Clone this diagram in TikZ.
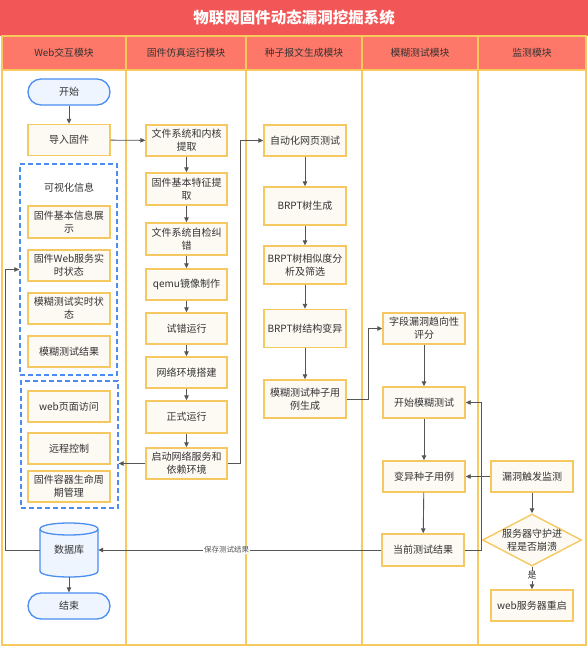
\documentclass[tikz,border=0pt]{standalone}
\usepackage{fontspec}
\setmainfont{Noto Sans CJK SC}
\usetikzlibrary{shapes.geometric,arrows.meta,calc}
\definecolor{titlered}{HTML}{F35656}
\definecolor{headred}{HTML}{FD7868}
\definecolor{laneyel}{HTML}{F8C95D}
\definecolor{boxfill}{HTML}{FDFAF4}
\definecolor{boxline}{HTML}{F6C862}
\definecolor{bluel}{HTML}{4B8EF0}
\definecolor{bluefill}{HTML}{EFF5FF}
\definecolor{txt}{HTML}{333333}
\definecolor{arr}{HTML}{555555}
\begin{document}
\begin{tikzpicture}[x=1pt,y=-1pt,
 box/.style={draw=boxline, fill=boxfill, line width=1.4pt, minimum width=82pt, minimum height=31pt, inner sep=1pt, align=center, text=txt, font=\fontsize{10}{13}\selectfont},
 tall/.style={minimum height=38pt},
 term/.style={draw=bluel, fill=bluefill, line width=1.3pt, rounded corners=13pt, minimum width=82pt, minimum height=26pt, text=txt, font=\fontsize{10}{13}\selectfont},
 grp/.style={draw=bluel, dashed, dash pattern=on 5pt off 3pt, line width=1.3pt, inner sep=0pt},
 conn/.style={draw=arr, line width=0.9pt, -{Triangle[length=5pt,width=4.5pt]}},
 head/.style={text=txt, font=\fontsize{9.8}{12}\selectfont},
 lane/.style={draw=laneyel, line width=1.5pt},
 lbl/.style={fill=white, inner sep=1pt, text=arr},
]
\useasboundingbox (0,0) rectangle (588,648);
\fill[white] (0,0) rectangle (588,648);
\fill[titlered] (0,0) rectangle (588,36);
\node[font=\bfseries\fontsize{15.5}{18}\selectfont, text=white] (title) at (294,18) {物联网固件动态漏洞挖掘系统};
\foreach \a/\b/\t [count=\i] in {2/126/Web交互模块, 126/246/固件仿真运行模块, 246/362/种子报文生成模块, 362/478/模糊测试模块, 478/586/监测模块}{
  \draw[lane] (\a,70) rectangle (\b,645);
  \draw[lane, fill=headred] (\a,36) rectangle (\b,70);
  \node[head] (h\i) at ({(\a+\b)/2},53) {\t};
}
% lane 1
\node[term] (start) at (69,92) {开始};
\node[box] (imp) at (69,140) {导入固件};
\node[grp, minimum width=97pt, minimum height=211pt] (g1) at (68.5,269.5) {};
\node[text=txt, font=\fontsize{10}{13}\selectfont] (g1t) at (69,188) {可视化信息};
\node[box, minimum height=32pt] (v1) at (69,222) {固件基本信息展\\示};
\node[box] (v2) at (69,265.5) {固件Web服务实\\时状态};
\node[box] (v3) at (69,308.5) {模糊测试实时状\\态};
\node[box] (v4) at (69,351.5) {模糊测试结果};
\node[grp, minimum width=97pt, minimum height=127pt] (g2) at (69.5,444.5) {};
\node[box] (w1) at (69,406.5) {web页面访问};
\node[box] (w2) at (69,448.5) {远程控制};
\node[box] (w3) at (69,486.5) {固件容器生命周\\期管理};
% database cylinder
\fill[bluefill] (40,529) -- (40,571) .. controls (40,579) and (98,579) .. (98,571) -- (98,529) .. controls (98,521) and (40,521) .. (40,529) -- cycle;
\draw[bluel, line width=1.3pt] (40,529) -- (40,571) .. controls (40,579) and (98,579) .. (98,571) -- (98,529) .. controls (98,521) and (40,521) .. (40,529) -- cycle;
\draw[bluel, line width=1.3pt] (40,529) .. controls (40,537) and (98,537) .. (98,529);
\node[minimum width=58pt, minimum height=54pt, inner sep=0pt, text=txt, font=\fontsize{10}{13}\selectfont] (db) at (69,550) {\raisebox{-4pt}{数据库}};
\node[term] (end) at (69,606) {结束};
% lane 2
\node[box, minimum width=81pt] (t1) at (186.5,140.5) {文件系统和内核\\提取};
\node[box, minimum width=81pt, minimum height=32pt] (t2) at (186.5,189) {固件基本特征提\\取};
\node[box, minimum width=81pt, minimum height=32pt] (t3) at (186.5,239) {文件系统自检纠\\错};
\node[box, minimum width=81pt] (t4) at (186.5,284.5) {qemu镜像制作};
\node[box, minimum width=81pt] (t5) at (186.5,328.5) {试错运行};
\node[box, minimum width=81pt] (t6) at (186.5,372.5) {网络环境搭建};
\node[box, minimum width=81pt, minimum height=32pt] (t7) at (186.5,417) {正式运行};
\node[box, minimum width=81pt] (t8) at (186.5,463.5) {启动网络服务和\\依赖环境};
% lane 3
\node[box] (s1) at (305,140.5) {自动化网页测试};
\node[box, tall] (s2) at (305,206) {BRPT树生成};
\node[box, tall] (s3) at (305,265) {BRPT树相似度分\\析及筛选};
\node[box, tall] (s4) at (305,328.5) {BRPT树结构变异};
\node[box, tall] (s5) at (305,399) {模糊测试种子用\\例生成};
% lane 4
\node[box] (f1) at (424,328.5) {字段漏洞趋向性\\评分};
\node[box] (f2) at (424,402.5) {开始模糊测试};
\node[box] (f3) at (424,476.5) {变异种子用例};
\node[box, minimum height=32pt] (f4) at (423,550) {当前测试结果};
% lane 5
\node[box] (m1) at (532,476.5) {漏洞触发监测};
\node[diamond, draw=boxline, fill=boxfill, line width=1.4pt, inner sep=0pt, minimum width=99pt, minimum height=52pt,
  label={[align=center, text=txt, font=\fontsize{10}{13}\selectfont]center:服务器守护进\\程是否崩溃}] (m2) at (532,540) {};
\node[box] (m3) at (532,605.5) {web服务器重启};
% connectors
\draw[conn] (start) -- (imp);
\draw[conn] (imp) -- (t1);
\draw[conn] (t1) -- (t2);
\draw[conn] (t2) -- (t3);
\draw[conn] (t3) -- (t4);
\draw[conn] (t4) -- (t5);
\draw[conn] (t5) -- (t6);
\draw[conn] (t6) -- (t7);
\draw[conn] (t7) -- (t8);
\draw[conn] (t8.west) -- (t8.west -| g2.east);
\draw[conn] (t8.east) -- ++(13,0) |- (s1.west);
\draw[conn] (s1) -- (s2);
\draw[conn] (s2) -- (s3);
\draw[conn] (s3) -- (s4);
\draw[conn] (s4) -- (s5);
\draw[conn] (s5.east) -- ++(22,0) |- (f1.west);
\draw[conn] (f1) -- (f2);
\draw[conn] (f2) -- (f3);
\draw[conn] (f3) -- (f4);
\draw[conn] (f4.east) -- ++(17,0) |- (f2.east);
\draw[conn] (m1.west) -- (f3.east);
\draw[conn] (m1) -- (m2);
\draw[conn] (m2) -- node[lbl, text=txt, font=\fontsize{9}{10}\selectfont, pos=0.4] {是} (m3);
\draw[conn] (f4.west) -- node[lbl, font=\fontsize{7.5}{8}\selectfont, pos=0.546] {保存测试结果} (db.east);
\draw[conn] (db.west) -- ++(-34,0) |- (g1.west);
\draw[conn] (db) -- (end);
\end{tikzpicture}
\end{document}
